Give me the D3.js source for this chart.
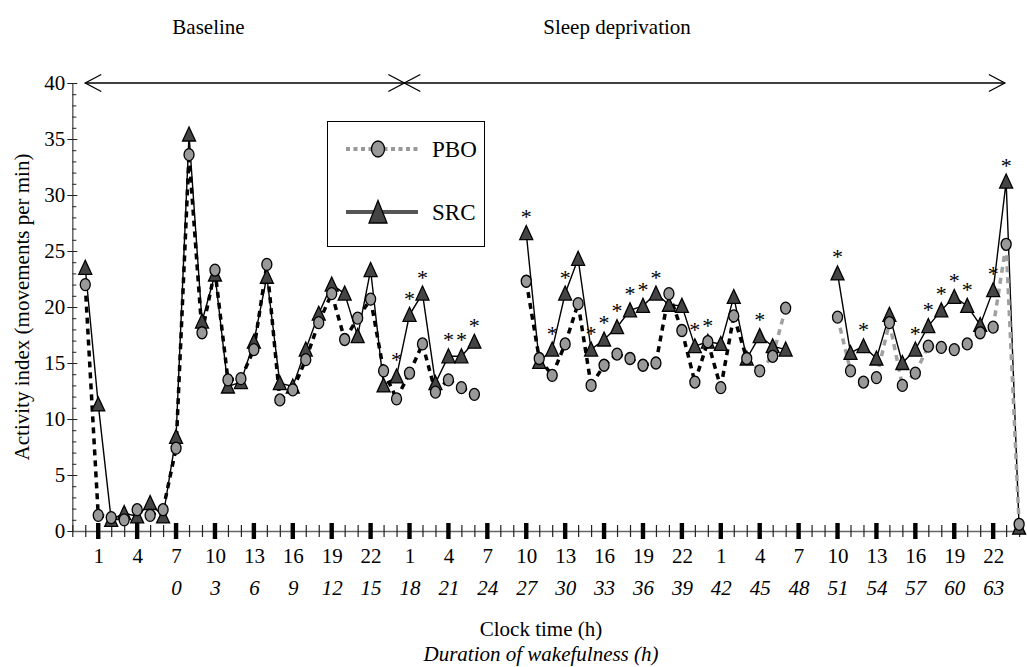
<!DOCTYPE html>
<meta charset="utf-8">
<style>
body { margin: 0; background: #fff; }
svg { display: block; font-family: "Liberation Serif", "Times New Roman", serif; }
.axis path { stroke: #666; stroke-width: 1.5px; }
.axis line { stroke: #222; }
.axis text { font-family: "Liberation Serif", serif; font-size: 21px; fill: #000; }
.src-line { fill: none; stroke: #000; stroke-width: 1.4px; }
.pbo-line { fill: none; stroke-width: 3.5px; stroke-dasharray: 6,5; }
.pbo { fill: #999; stroke: #000; stroke-width: 1.3px; }
.src { fill: #444; stroke: #000; stroke-width: 1.3px; }
.lbl { font-size: 21px; fill: #000; }
</style>
<svg width="1027" height="667"></svg>
<script src="https://d3js.org/d3.v7.min.js"></script>
<script>
// hours since midnight of the baseline day (missing hours = no recording)
var hours = [0,1,2,3,4,5,6,7,8,9,10,11,12,13,14,15,16,17,18,19,20,21,22,23,24,25,26,27,28,29,30,
             34,35,36,37,38,39,40,41,42,43,44,45,46,47,48,49,50,51,52,53,54,
             58,59,60,61,62,63,64,65,66,67,68,69,70,71,72];
var pbo = [22.0,1.4,1.2,1.0,1.9,1.4,1.9,7.4,33.6,17.7,23.3,13.5,13.6,16.2,23.8,11.7,12.6,15.3,18.6,21.2,17.1,19.0,20.7,14.3,11.8,14.1,16.7,12.4,13.5,12.8,12.2,
           22.3,15.4,13.9,16.7,20.3,13.0,14.8,15.8,15.4,14.8,15.0,21.2,17.9,13.3,16.9,12.8,19.2,15.4,14.3,15.6,19.9,
           19.1,14.3,13.3,13.7,18.6,13.0,14.1,16.5,16.4,16.2,16.7,17.7,18.2,25.6,0.6];
var src = [23.5,11.3,1.0,1.6,1.3,2.5,1.3,8.4,35.4,18.7,22.9,12.9,13.3,16.9,22.7,13.2,12.9,16.2,19.4,22.0,21.2,17.4,23.3,13.0,13.8,19.3,21.2,13.2,15.6,15.6,16.9,
           26.6,15.1,16.2,21.2,24.3,16.2,17.1,18.2,19.7,20.1,21.2,20.2,20.1,16.5,16.9,16.7,20.9,15.4,17.4,16.5,16.2,
           23.0,15.9,16.5,15.4,19.3,15.0,16.2,18.3,19.7,20.9,20.1,18.4,21.5,31.2,0.3];
// hours where SRC differs from PBO (*)
var sigHours = [24,25,26,28,29,30,34,36,37,39,40,41,42,43,44,47,48,52,58,60,64,65,66,67,68,70,71];

var clockTicks = [1,4,7,10,13,16,19,22,25,28,31,34,37,40,43,46,49,52,55,58,61,64,67,70,73];
var clockLabels = ["1","4","7","10","13","16","19","22","1","4","7","10","13","16","19","22","1","4","7","10","13","16","19","22","1"];
var wakeTicks = [7,10,13,16,19,22,25,28,31,34,37,40,43,46,49,52,55,58,61,64,67,70];
var wakeLabels = ["0","3","6","9","12","15","18","21","24","27","30","33","36","39","42","45","48","51","54","57","60","63"];
var yTicks = [0,5,10,15,20,25,30,35,40];

var periods = ["Baseline", "Sleep deprivation"];
var periodLabelAt = [9.5, 41];
var periodSpans = [[0, 24.6], [24.6, 70.9]];

var svg = d3.select("svg");

var x = d3.scaleLinear().domain([-1, 72.3]).range([72.3, 1023]),
    y = d3.scaleLinear().domain([0, 40]).range([531, 83]);

var data = hours.map(function(h, i) { return {t: h, pbo: pbo[i], src: src[i]}; });

// split into runs of consecutive hours
var runs = [];
data.forEach(function(d, i) {
  if (i == 0 || d.t - data[i-1].t > 1) runs.push([]);
  runs[runs.length - 1].push(d);
});

// ---- axes ----
var yAxis = svg.append("g")
    .attr("class", "axis")
    .attr("transform", "translate(" + x(-1) + ",0)")
    .call(d3.axisLeft(y).tickValues(yTicks).tickSize(5).tickSizeOuter(0).tickPadding(2));
yAxis.selectAll(".tick line").attr("x1", 5);

svg.append("g")
    .attr("class", "axis minor")
    .attr("transform", "translate(" + x(-1) + ",0)")
    .call(d3.axisRight(y).tickValues(y.ticks(40).filter(function(v) { return v % 5 != 0; })).tickSize(4).tickFormat(""))
  .select(".domain").remove();

var xAxis = svg.append("g")
    .attr("class", "axis")
    .attr("transform", "translate(0," + y(0) + ")")
    .call(d3.axisBottom(x).tickValues(d3.range(-1, 73)).tickSize(6).tickSizeOuter(0).tickFormat(""));
xAxis.selectAll(".tick line").attr("y1", -6).attr("stroke-width", 1.2);

svg.append("g").selectAll("rect")
    .data(clockTicks.filter(function(t) { return t <= 72; }))
  .enter().append("rect")
    .attr("x", function(t) { return x(t) - 2.2; })
    .attr("y", y(0) - 8)
    .attr("width", 4.4)
    .attr("height", 16)
    .attr("fill", "#000");

svg.append("g")
    .attr("class", "axis")
    .attr("transform", "translate(0," + y(0) + ")")
    .call(d3.axisBottom(x).tickValues(clockTicks).tickSize(0).tickPadding(17)
      .tickFormat(function(d, i) { return clockLabels[i]; }))
  .select(".domain").remove();

svg.append("g")
    .attr("class", "axis")
    .attr("transform", "translate(0," + y(0) + ")")
    .call(d3.axisBottom(x).tickValues(wakeTicks).tickSize(0).tickPadding(49)
      .tickFormat(function(d, i) { return wakeLabels[i]; }))
    .call(function(g) { g.select(".domain").remove(); g.selectAll("text").style("font-style", "italic"); });

// ---- titles ----
svg.append("text").attr("class", "lbl")
    .attr("transform", "translate(29,307) rotate(-90)")
    .attr("text-anchor", "middle")
    .text("Activity index (movements per min)");
svg.append("text").attr("class", "lbl")
    .attr("x", 541).attr("y", 636).attr("text-anchor", "middle")
    .text("Clock time (h)");
svg.append("text").attr("class", "lbl")
    .attr("x", 541).attr("y", 661).attr("text-anchor", "middle")
    .style("font-style", "italic")
    .text("Duration of wakefulness (h)");

svg.selectAll(".period")
    .data(periods)
  .enter().append("text")
    .attr("class", "lbl period")
    .attr("x", function(d, i) { return x(periodLabelAt[i]); })
    .attr("y", 34)
    .attr("text-anchor", "middle")
    .text(function(d) { return d; });

// double headed arrows along the top
var arrow = svg.append("g").attr("stroke", "#000").attr("stroke-width", 1.3).attr("fill", "none");
periodSpans.forEach(function(s) {
  var a = x(s[0]), b = x(s[1]), yy = y(40);
  arrow.append("line").attr("x1", a).attr("x2", b).attr("y1", yy).attr("y2", yy);
  arrow.append("path").attr("d", "M" + (a + 16) + "," + (yy - 8.5) + "L" + a + "," + yy + "L" + (a + 16) + "," + (yy + 8.5));
  arrow.append("path").attr("d", "M" + (b - 16) + "," + (yy - 8.5) + "L" + b + "," + yy + "L" + (b - 16) + "," + (yy + 8.5));
});

// ---- lines ----
var linePbo = d3.line().x(function(d) { return x(d.t); }).y(function(d) { return y(d.pbo); });
var lineSrc = d3.line().x(function(d) { return x(d.t); }).y(function(d) { return y(d.src); });

svg.append("g").selectAll("path")
    .data(runs)
  .enter().append("path")
    .attr("class", "src-line")
    .attr("d", lineSrc);

// pbo line drawn pair by pair: black dashes first, grey dashes later on
var pairs = [];
runs.forEach(function(r) {
  for (var i = 1; i < r.length; i++) pairs.push([r[i-1], r[i]]);
});
svg.append("g").selectAll("path")
    .data(pairs)
  .enter().append("path")
    .attr("class", "pbo-line")
    .attr("stroke", function(p) { return p[0].t >= 51 ? "#a0a0a0" : "#000"; })
    .attr("d", linePbo);

// ---- markers ----
var tri = "M0,-7.5L6.5,6.5L-6.5,6.5Z";

svg.append("g").selectAll("path")
    .data(data)
  .enter().append("path")
    .attr("class", "src")
    .attr("transform", function(d) { return "translate(" + x(d.t) + "," + y(d.src) + ")"; })
    .attr("d", tri);

svg.append("g").selectAll("ellipse")
    .data(data)
  .enter().append("ellipse")
    .attr("class", "pbo")
    .attr("cx", function(d) { return x(d.t); })
    .attr("cy", function(d) { return y(d.pbo); })
    .attr("rx", 5)
    .attr("ry", 6);

svg.append("g").selectAll("text")
    .data(data.filter(function(d) { return sigHours.indexOf(d.t) != -1; }))
  .enter().append("text")
    .attr("x", function(d) { return x(d.t); })
    .attr("y", function(d) { return y(d.src) - 9; })
    .attr("text-anchor", "middle")
    .attr("fill", "#000")
    .style("font-size", "22px")
    .text("*");

// ---- legend ----
var leg = svg.append("g");
leg.append("rect").attr("x", 327.5).attr("y", 121.5).attr("width", 157).attr("height", 125)
    .attr("fill", "#fff").attr("stroke", "#000").attr("stroke-width", 1);
leg.append("line").attr("x1", 346).attr("x2", 418).attr("y1", 149).attr("y2", 149)
    .attr("stroke", "#999").attr("stroke-width", 4).attr("stroke-dasharray", "4,3.5");
leg.append("ellipse").attr("class", "pbo").attr("cx", 378).attr("cy", 149).attr("rx", 6.5).attr("ry", 8);
leg.append("text").attr("class", "lbl").attr("x", 432).attr("y", 157).style("font-size", "23px").text("PBO");
leg.append("line").attr("x1", 346).attr("x2", 418).attr("y1", 212).attr("y2", 212)
    .attr("stroke", "#555").attr("stroke-width", 4);
leg.append("path").attr("class", "src").attr("transform", "translate(378,212)").attr("d", "M0,-11.5L9,11L-9,11Z");
leg.append("text").attr("class", "lbl").attr("x", 432).attr("y", 220).style("font-size", "23px").text("SRC");
</script>
